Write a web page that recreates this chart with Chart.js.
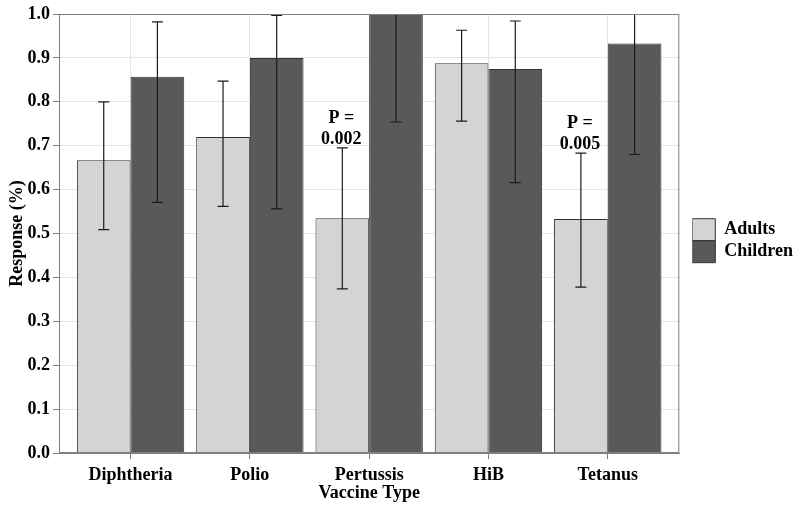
<!DOCTYPE html>
<html>
<head>
<meta charset="utf-8">
<script src="https://cdn.jsdelivr.net/npm/chart.js@4.4.1/dist/chart.umd.min.js"></script>
<style>
  html, body { margin: 0; padding: 0; background: #fff; }
  #wrap { width: 800px; height: 510px; }
</style>
</head>
<body>
<div id="wrap"><canvas id="chart"></canvas></div>
<script>
const categories = ["Diphtheria", "Polio", "Pertussis", "HiB", "Tetanus"];

const adults = [0.667, 0.720, 0.535, 0.888, 0.533];
const adultsLow = [0.509, 0.562, 0.374, 0.756, 0.378];
const adultsHigh = [0.800, 0.847, 0.695, 0.963, 0.683];

const children = [0.857, 0.900, 1.000, 0.875, 0.933];
const childrenLow = [0.571, 0.556, 0.754, 0.616, 0.680];
const childrenHigh = [0.982, 0.997, 1.246, 0.984, 1.186];

const pValues = [null, null, "0.002", null, "0.005"];

Chart.defaults.font.family = "'Liberation Serif', 'Times New Roman', serif";
Chart.defaults.font.size = 18;
Chart.defaults.font.weight = "bold";
Chart.defaults.color = "#000";

function isMajor(v) {
  return Math.round(v * 100) % 10 === 0;
}

// error bars, p-value notes and the panel border
const errorBars = {
  id: "errorBars",
  afterDatasetsDraw(chart) {
    const ctx = chart.ctx;
    const ys = chart.scales.y;
    const a = chart.chartArea;
    const ranges = [[adultsLow, adultsHigh], [childrenLow, childrenHigh]];

    ctx.save();
    ctx.beginPath();
    ctx.rect(a.left, a.top, a.right - a.left, a.bottom - a.top);
    ctx.clip();
    ctx.strokeStyle = "#1a1a1a";
    ctx.lineWidth = 1.2;
    ranges.forEach(([lo, hi], d) => {
      chart.getDatasetMeta(d).data.forEach((bar, i) => {
        const x = bar.x;
        const y1 = ys.getPixelForValue(lo[i]);
        const y2 = ys.getPixelForValue(hi[i]);
        ctx.beginPath();
        ctx.moveTo(x, y1); ctx.lineTo(x, y2);
        ctx.moveTo(x - 5.5, y1); ctx.lineTo(x + 5.5, y1);
        ctx.moveTo(x - 5.5, y2); ctx.lineTo(x + 5.5, y2);
        ctx.stroke();
      });
    });
    ctx.restore();

    ctx.save();
    ctx.fillStyle = "#000";
    ctx.font = "bold 18px 'Liberation Serif', serif";
    ctx.textAlign = "center";
    ctx.textBaseline = "middle";
    chart.getDatasetMeta(0).data.forEach((bar, i) => {
      if (!pValues[i]) return;
      const top = ys.getPixelForValue(adultsHigh[i]);
      ctx.fillText("P =", bar.x - 1, top - 30);
      ctx.fillText(pValues[i], bar.x - 1, top - 9);
    });
    ctx.strokeStyle = "#7f7f7f";
    ctx.lineWidth = 1;
    ctx.strokeRect(a.left + 0.5, a.top + 0.5, a.right - a.left - 1, a.bottom - a.top - 1);
    ctx.restore();
  }
};

const legendShift = {
  id: "legendShift",
  afterLayout(chart) {
    const l = chart.legend;
    l.left += 13; l.right += 13;
  }
};

new Chart(document.getElementById("chart"), {
  type: "bar",
  data: {
    datasets: [
      {
        label: "Adults",
        data: categories.map((c, i) => ({ x: i + 1, y: adults[i] })),
        backgroundColor: "#d4d4d4",
        borderColor: "#333",
        borderWidth: 1
      },
      {
        label: "Children",
        data: categories.map((c, i) => ({ x: i + 1, y: children[i] })),
        backgroundColor: "#595959",
        borderColor: "#333",
        borderWidth: 1
      }
    ]
  },
  options: {
    responsive: true,
    maintainAspectRatio: false,
    animation: false,
    barPercentage: 1,
    categoryPercentage: 0.9,
    layout: { padding: { top: 14, right: 10, left: 0, bottom: 0 } },
    plugins: {
      tooltip: { enabled: false },
      legend: {
        position: "right",
        fullSize: false,
        labels: { boxWidth: 23, boxHeight: 22, padding: 0 },
        title: { display: true, text: " ", font: { size: 12 }, padding: 0 }
      }
    },
    scales: {
      x: {
        type: "linear",
        min: 0.4,
        max: 5.6,
        offset: false,
        afterBuildTicks: s => { s.ticks = categories.map((c, i) => ({ value: i + 1 })); },
        afterFit: s => { s.height = 57; },
        ticks: { callback: v => categories[v - 1] || "", padding: 6, maxRotation: 0, autoSkip: false },
        grid: { offset: false, color: "#e5e5e5", tickColor: "#7f7f7f", tickLength: 6 },
        border: { color: "#7f7f7f" },
        title: { display: true, text: "Vaccine Type", padding: { top: 0, bottom: 6 } }
      },
      y: {
        min: 0,
        max: 1,
        afterFit: s => { s.width = 59; },
        ticks: { stepSize: 0.05, padding: 3, callback: v => isMajor(v) ? v.toFixed(1) : "" },
        grid: {
          color: c => isMajor(c.tick.value) ? "#e5e5e5" : "#f5f5f5",
          tickColor: c => isMajor(c.tick.value) ? "#7f7f7f" : "rgba(0,0,0,0)",
          tickLength: 6
        },
        border: { color: "#7f7f7f" },
        title: { display: true, text: "Response (%)", padding: { top: 7, bottom: 0 } }
      }
    }
  },
  plugins: [errorBars, legendShift]
});
</script>
</body>
</html>
